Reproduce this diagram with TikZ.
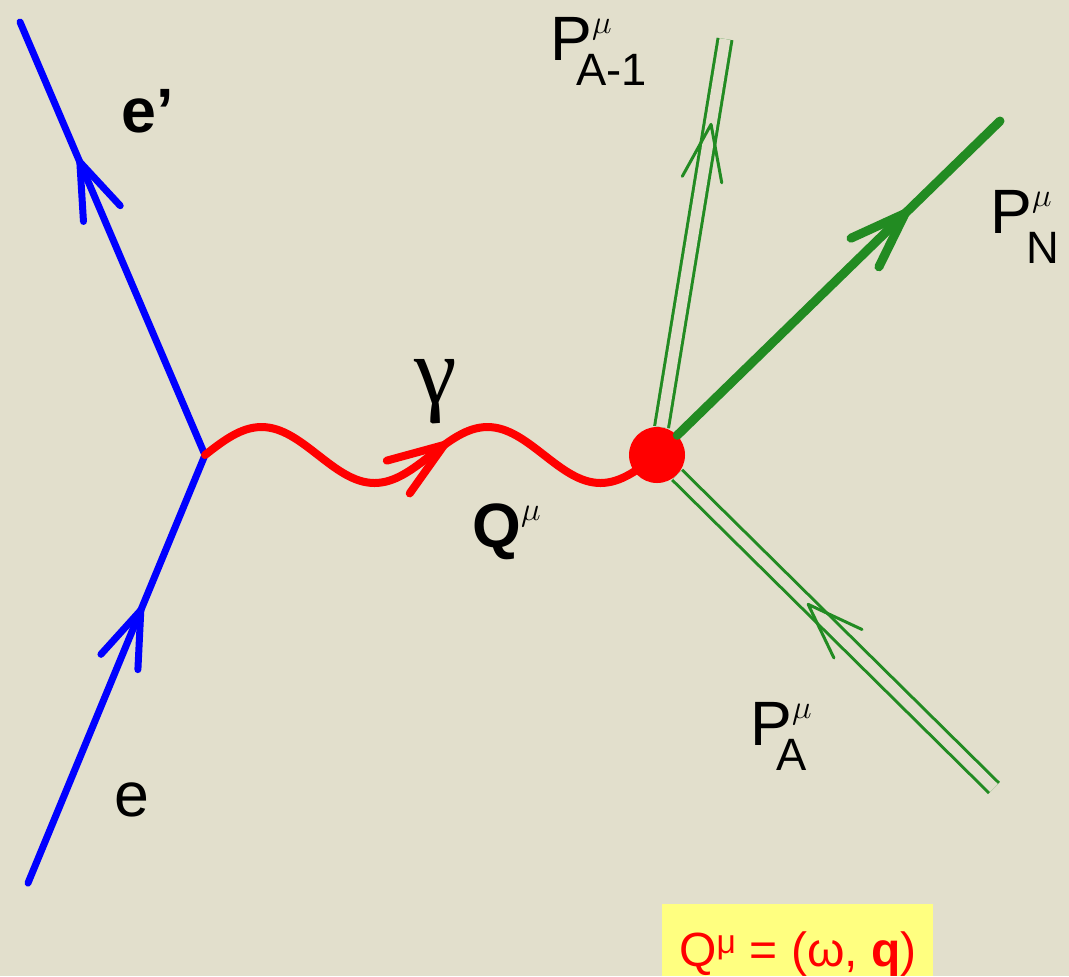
\documentclass[tikz,border=0pt]{standalone}
\usepackage{fontspec}
\setmainfont{Liberation Sans}
\newfontfamily\greekserif{Liberation Serif}
\usepackage{amsmath}
\usetikzlibrary{arrows.meta,decorations.markings}

\definecolor{bgbeige}{RGB}{226,223,204}
\definecolor{lepblue}{RGB}{0,0,255}
\definecolor{nucgreen}{RGB}{34,139,34}
\definecolor{boxyellow}{RGB}{255,255,128}

\newcommand{\labsize}{\fontsize{47}{50}\selectfont}
\newcommand{\subsize}{\fontsize{34}{36}\selectfont}
\newcommand{\supsize}{\fontsize{30}{32}\selectfont}
% P with mu on top and a subscript pulled back under it
\newcommand{\mom}[3]{P\rlap{\raisebox{0.42em}{\supsize$\mu$}}\kern#2\raisebox{-#3}{\subsize #1}}

\tikzset{chev/.tip={Straight Barb[length=42pt,width=30pt,round]}}

\begin{document}
\begin{tikzpicture}[x=0.75pt,y=-0.75pt,
  mid arrow/.style={postaction={decorate},decoration={markings,mark=at position #1 with {\arrow{chev}}}},
  electron/.style={lepblue,line width=5.25pt,line cap=round,line join=round},
  photon/.style={red,line width=6pt,line cap=round,line join=round},
  knocked/.style={nucgreen,line width=6.75pt,line cap=round},
  nucleus/.style={nucgreen,line width=2.25pt,double=bgbeige,double distance=8.25pt},
  nucarrow/.style={color=nucgreen,line width=2.25pt},
  vertex/.style={circle,fill=red,minimum size=42pt,inner sep=0pt},
  momlabel/.style={inner sep=0pt,anchor=base west,font=\labsize}]
\fill[bgbeige] (0,0) rectangle (1069,976);
\useasboundingbox (0,0) rectangle (1069,976);

\coordinate (ein) at (28,883);
\coordinate (v1) at (205,455);
\coordinate (eout) at (20,22);
\coordinate (pa1) at (725,39);
\coordinate (pn) at (1000,121);
\coordinate (pa) at (994,788);

% electron side
\draw[electron,mid arrow=0.645] (ein) -- (v1);
\draw[electron,mid arrow=0.684] (v1) -- (eout);

% virtual photon
\draw[photon,mid arrow=0.54] (v1) sin ++(56.5,-28) cos ++(56.5,28) sin ++(56.5,28) cos ++(56.5,-28)
  sin ++(56.5,-28) cos ++(56.5,28) sin ++(56.5,28) cos ++(56.5,-28);
\node[vertex] (blob) at (657,455) {};

% hadron side
\draw[nucleus] (blob) -- (pa1);
\path[nucarrow,mid arrow=0.784] (blob) -- (pa1);
\draw[nucleus] (blob) -- (pa);
\path[nucarrow,mid arrow=0.59] (pa) -- (blob);
\draw[knocked,mid arrow=0.716] (blob) -- (pn);

% labels
\node[momlabel] (leout) at (121,132) {\textbf{e'}};
\node[momlabel] (lein) at (114,816) {e};
\node[inner sep=0pt] (lgamma) at (436,392) {\fontsize{72}{72}\selectfont\greekserif γ};
\node[momlabel] (lq) at (472,547) {\textbf{Q}\raisebox{0.42em}{\supsize$\mu$}};
\node[momlabel] (lpa1) at (550,60) {\mom{A-1}{-12pt}{0.4em}};
\node[momlabel] (lpn) at (990,233) {\mom{N}{-4pt}{0.48em}};
\node[momlabel] (lpa) at (750,745) {\mom{A}{-12pt}{0.4em}};

% definition box
\fill[boxyellow] (662,904) rectangle (933,976);
\node[inner sep=0pt,anchor=base,red,font=\fontsize{36}{40}\selectfont] (qdef) at (798,966) {Q\textsuperscript{μ} = (ω, \textbf{q})};
\end{tikzpicture}
\end{document}
